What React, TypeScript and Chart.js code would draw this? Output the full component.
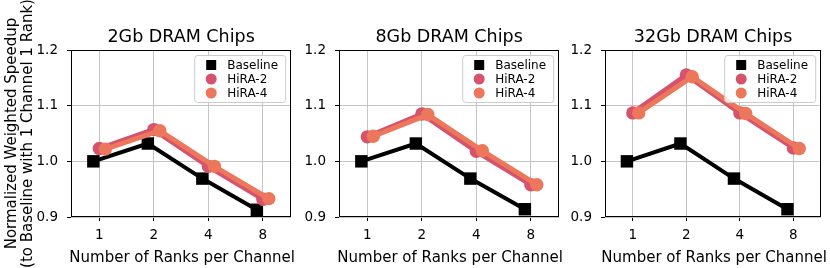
import React, { useEffect, useRef } from 'react';
import { Chart, registerables } from 'chart.js';

Chart.register(...registerables);
Chart.defaults.font.family = "'DejaVu Sans', sans-serif";

// ---------- data ----------
const rankCategories = ['1', '2', '4', '8'];
const yTickValues = [0.9, 1.0, 1.1, 1.2];
const panelTitles = ['2Gb DRAM Chips', '8Gb DRAM Chips', '32Gb DRAM Chips'];
const seriesNames = ['Baseline', 'HiRA-2', 'HiRA-4'];

const baseline2Gb = [1.0, 1.032, 0.969, 0.913];
const hira2_2Gb = [1.023, 1.057, 0.991, 0.932];
const hira4_2Gb = [1.022, 1.055, 0.991, 0.933];

const baseline8Gb = [1.0, 1.032, 0.969, 0.914];
const hira2_8Gb = [1.044, 1.085, 1.018, 0.958];
const hira4_8Gb = [1.045, 1.084, 1.019, 0.958];

const baseline32Gb = [1.0, 1.032, 0.969, 0.914];
const hira2_32Gb = [1.087, 1.155, 1.087, 1.024];
const hira4_32Gb = [1.087, 1.152, 1.086, 1.023];

const panelSeries = [
  [baseline2Gb, hira2_2Gb, hira4_2Gb],
  [baseline8Gb, hira2_8Gb, hira4_8Gb],
  [baseline32Gb, hira2_32Gb, hira4_32Gb],
];

// ---------- style ----------
const seriesColors = ['#000000', '#d6536d', '#ec775a'];
const seriesOffsets = [-0.11, 0, 0.11];
const gridColor = '#c4c4c4';
const panelGeom = [
  { left: 0, width: 300, yWidth: 71, padRight: 6, yLabel: true },
  { left: 300, width: 268, yWidth: 39, padRight: 5, yLabel: false },
  { left: 568, width: 262, yWidth: 37, padRight: 2, yLabel: false },
];
const H = 268;

const decorPlugin = {
  id: 'decor',
  afterDraw(chart: any, _args: any, opts: any) {
    const { ctx, chartArea: a } = chart;
    ctx.save();
    // frame
    ctx.strokeStyle = '#000';
    ctx.lineWidth = 1;
    const l = Math.round(a.left) + 0.5;
    const t = Math.round(a.top) + 0.5;
    const r = Math.round(a.right) - 0.5;
    const b = Math.round(a.bottom) - 0.5;
    ctx.strokeRect(l, t, r - l, b - t);

    // title
    ctx.fillStyle = '#000';
    ctx.textAlign = 'center';
    ctx.textBaseline = 'alphabetic';
    ctx.font = "17.5px 'DejaVu Sans'";
    const cx = (a.left + a.right) / 2;
    ctx.fillText(opts.title, cx, 41.5);

    // x label
    ctx.font = "15px 'DejaVu Sans'";
    ctx.fillText('Number of Ranks per Channel', cx + 1, 262);

    // y label
    if (opts.yLabel) {
      const cy = (a.top + a.bottom) / 2;
      const lines = ['Normalized Weighted Speedup', '(to Baseline with 1 Channel 1 Rank)'];
      const xs = [16, 32];
      lines.forEach((ln, i) => {
        ctx.save();
        ctx.translate(xs[i], cy);
        ctx.rotate(-Math.PI / 2);
        ctx.fillText(ln, 0, 0);
        ctx.restore();
      });
    }

    // legend
    const lw = 91, lh = 47;
    const lx = a.right - 97, ly = a.top + 5;
    ctx.beginPath();
    if (ctx.roundRect) ctx.roundRect(lx + 0.5, ly + 0.5, lw, lh, 3);
    else ctx.rect(lx + 0.5, ly + 0.5, lw, lh);
    ctx.fillStyle = 'rgba(255,255,255,0.8)';
    ctx.fill();
    ctx.strokeStyle = '#cccccc';
    ctx.stroke();
    ctx.font = "12px 'DejaVu Sans'";
    ctx.textAlign = 'left';
    ctx.textBaseline = 'middle';
    seriesNames.forEach((name, i) => {
      const y = ly + 10 + i * 14;
      const mx = lx + 17;
      ctx.fillStyle = seriesColors[i];
      if (i === 0) {
        ctx.fillRect(mx - 5, y - 5, 10, 10);
      } else {
        ctx.beginPath();
        ctx.arc(mx, y, 5.5, 0, Math.PI * 2);
        ctx.fill();
      }
      ctx.fillStyle = '#000';
      ctx.fillText(name, lx + 33, y + 0.5);
    });
    ctx.restore();
  },
};

function Panel({ index }: { index: number }) {
  const ref = useRef<HTMLCanvasElement>(null);
  const g = panelGeom[index];
  useEffect(() => {
    const series = panelSeries[index];
    const datasets = series.map((vals, s) => ({
      label: seriesNames[s],
      data: vals.map((y, i) => ({ x: i + seriesOffsets[s], y })),
      borderColor: seriesColors[s],
      backgroundColor: seriesColors[s],
      borderWidth: s === 0 ? 4 : 5,
      pointStyle: s === 0 ? 'rect' : 'circle',
      pointRadius: s === 0 ? 8.8 : 6.7,
      pointBorderWidth: 0,
      pointHoverRadius: s === 0 ? 8.8 : 6.7,
      tension: 0,
      order: 2 - s,
      clip: false as any,
    }));
    const chart = new Chart(ref.current as HTMLCanvasElement, {
      type: 'line',
      data: { datasets: datasets as any },
      plugins: [decorPlugin as any],
      options: {
        animation: false,
        responsive: false,
        maintainAspectRatio: false,
        layout: { padding: { left: 0, right: g.padRight, top: 50, bottom: 0 } },
        plugins: {
          legend: { display: false },
          title: { display: false },
          tooltip: { enabled: false },
          decor: { title: panelTitles[index], yLabel: g.yLabel },
        } as any,
        scales: {
          x: {
            type: 'linear',
            min: -0.52,
            max: 3.52,
            afterBuildTicks: (s: any) => {
              s.ticks = rankCategories.map((_, i) => ({ value: i }));
            },
            afterFit: (s: any) => {
              s.height = 51;
            },
            ticks: {
              callback: (v: any) => rankCategories[Math.round(Number(v))] ?? '',
              font: { size: 13.5 },
              color: '#000',
              padding: 6,
              maxRotation: 0,
              autoSkip: false,
            },
            grid: { color: gridColor, lineWidth: 1, tickColor: '#000', tickLength: 4, drawTicks: true },
            border: { display: false },
          },
          y: {
            type: 'linear',
            min: 0.9,
            max: 1.2,
            afterBuildTicks: (s: any) => {
              s.ticks = yTickValues.map((v) => ({ value: v }));
            },
            afterFit: (s: any) => {
              s.width = g.yWidth;
            },
            ticks: {
              callback: (v: any) => Number(v).toFixed(1),
              font: { size: 13.5 },
              color: '#000',
              padding: 9,
            },
            grid: { color: gridColor, lineWidth: 1, tickColor: '#000', tickLength: 4, drawTicks: true },
            border: { display: false },
          },
        } as any,
      },
    });
    return () => chart.destroy();
  }, [index]);
  return (
    <canvas
      ref={ref}
      width={g.width}
      height={H}
      style={{ position: 'absolute', left: g.left, top: 0, width: g.width, height: H }}
    />
  );
}

export default function App() {
  return (
    <div style={{ position: 'absolute', left: 0, top: 0, width: 830, height: H, background: '#fff', overflow: 'hidden' }}>
      {panelGeom.map((_, i) => (
        <Panel key={i} index={i} />
      ))}
    </div>
  );
}
